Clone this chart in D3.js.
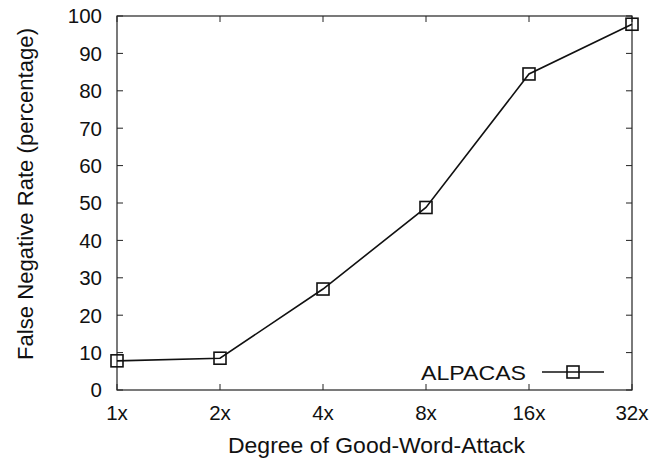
<!DOCTYPE html>
<html>
<head>
<meta charset="utf-8">
<script src="https://cdn.jsdelivr.net/npm/d3@7"></script>
<style>
  body { margin: 0; background: #fff; }
  svg text { font-family: "Liberation Sans", Arial, sans-serif; fill: #111; }
</style>
</head>
<body>
<div id="chart"></div>
<script>
// data
const categories = ['1x', '2x', '4x', '8x', '16x', '32x'];
const alpacas = [7.8, 8.5, 27, 48.8, 84.5, 97.8];
const yTicks = [0, 10, 20, 30, 40, 50, 60, 70, 80, 90, 100];

const width = 670, height = 461;
const margin = { top: 16, right: 38, bottom: 71, left: 117 };
const w = width - margin.left - margin.right;
const h = height - margin.top - margin.bottom;

const svg = d3.select('#chart')
  .append('svg')
  .attr('width', width)
  .attr('height', height);

const g = svg.append('g')
  .attr('transform', `translate(${margin.left},${margin.top})`);

const x = d3.scalePoint().domain(categories).range([0, w]);
const y = d3.scaleLinear().domain([0, 100]).range([h, 0]);

const tickLen = 6;
const stroke = '#222';

// frame
g.append('rect')
  .attr('width', w).attr('height', h)
  .attr('fill', 'none').attr('stroke', stroke).attr('stroke-width', 1.2);

// y ticks (left + mirrored right)
const yt = g.append('g').selectAll('g').data(yTicks).enter().append('g');
yt.append('line')
  .attr('x1', 0).attr('x2', tickLen)
  .attr('y1', d => y(d)).attr('y2', d => y(d))
  .attr('stroke', stroke);
yt.append('line')
  .attr('x1', w).attr('x2', w - tickLen)
  .attr('y1', d => y(d)).attr('y2', d => y(d))
  .attr('stroke', stroke);
yt.append('text')
  .attr('x', -15).attr('y', d => y(d))
  .attr('dy', '0.36em')
  .attr('text-anchor', 'end')
  .style('font-size', '20.5px')
  .text(d => d);

// x ticks (bottom + mirrored top)
const xt = g.append('g').selectAll('g').data(categories).enter().append('g');
xt.append('line')
  .attr('x1', d => x(d)).attr('x2', d => x(d))
  .attr('y1', h).attr('y2', h - tickLen)
  .attr('stroke', stroke);
xt.append('line')
  .attr('x1', d => x(d)).attr('x2', d => x(d))
  .attr('y1', 0).attr('y2', tickLen)
  .attr('stroke', stroke);
xt.append('text')
  .attr('x', d => x(d)).attr('y', h + 30)
  .attr('text-anchor', 'middle')
  .style('font-size', '20.5px')
  .text(d => d);

// axis titles (reference glyphs are a bit wider than Liberation Sans)
svg.append('text')
  .attr('x', 228).attr('y', 453)
  .attr('textLength', 297)
  .attr('lengthAdjust', 'spacingAndGlyphs')
  .style('font-size', '21.5px')
  .text('Degree of Good-Word-Attack');

svg.append('text')
  .attr('transform', 'translate(33,360) rotate(-90)')
  .attr('textLength', 332)
  .attr('lengthAdjust', 'spacingAndGlyphs')
  .style('font-size', '21.5px')
  .text('False Negative Rate (percentage)');

// series
const pts = categories.map((c, i) => ({ c, v: alpacas[i] }));
const line = d3.line().x(d => x(d.c)).y(d => y(d.v));

g.append('path')
  .datum(pts)
  .attr('d', line)
  .attr('fill', 'none')
  .attr('stroke', '#111')
  .attr('stroke-width', 1.6);

const ms = 12;
g.selectAll('.pt').data(pts).enter().append('rect')
  .attr('class', 'pt')
  .attr('x', d => x(d.c) - ms / 2)
  .attr('y', d => y(d.v) - ms / 2)
  .attr('width', ms).attr('height', ms)
  .attr('fill', 'none')
  .attr('stroke', '#111')
  .attr('stroke-width', 1.6);

// legend
const lg = g.append('g').attr('transform', `translate(${w - 90},${h - 18})`);
lg.append('text')
  .attr('x', -121).attr('y', 0)
  .attr('dy', '0.36em')
  .attr('textLength', 105)
  .attr('lengthAdjust', 'spacingAndGlyphs')
  .style('font-size', '21px')
  .text('ALPACAS');
lg.append('line')
  .attr('x1', 0).attr('x2', 62)
  .attr('y1', 0).attr('y2', 0)
  .attr('stroke', '#111').attr('stroke-width', 1.6);
lg.append('rect')
  .attr('x', 31 - ms / 2).attr('y', -ms / 2)
  .attr('width', ms).attr('height', ms)
  .attr('fill', 'none').attr('stroke', '#111').attr('stroke-width', 1.6);
</script>
</body>
</html>
